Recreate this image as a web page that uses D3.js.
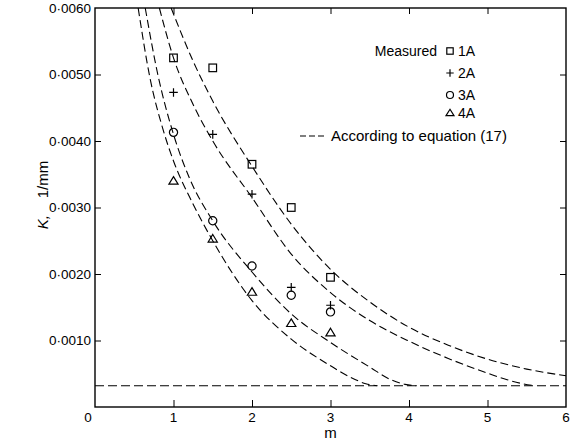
<!DOCTYPE html>
<html>
<head>
<meta charset="utf-8">
<script src="https://cdn.jsdelivr.net/npm/d3@7"></script>
<style>
  body { margin: 0; background: #fff; }
  svg { font-family: "Liberation Sans", Arial, sans-serif; }
</style>
</head>
<body>
<script>
// measured points
var mValues = [1, 1.5, 2, 2.5, 3];
var k1A = [0.00525, 0.0051, 0.00365, 0.0030, 0.00195];
var k2A = [0.00473, 0.0041, 0.0032, 0.0018, 0.00153];
var k3A = [0.00413, 0.0028, 0.00212, 0.00168, 0.00143];
var k4A = [0.0034, 0.00253, 0.00173, 0.00126, 0.00112];

// curves (equation 17)
var curveM1A = [0.97, 1.25, 1.5, 2.0, 2.5, 3.0, 3.5, 4.0, 4.5, 5.0, 5.5, 6.0];
var curveK1A = [0.0060, 0.0052, 0.0046, 0.00362, 0.00275, 0.00207, 0.00158, 0.0012, 0.00093, 0.00072, 0.00057, 0.00047];
var curveM2A = [0.82, 1.0, 1.25, 1.5, 2.0, 2.5, 3.0, 3.5, 4.0, 4.5, 5.0, 5.25, 5.45, 5.6];
var curveK2A = [0.0060, 0.00525, 0.00455, 0.0040, 0.00315, 0.0023, 0.00172, 0.0013, 0.00099, 0.00073, 0.00051, 0.00041, 0.00035, 0.00032];
var curveM3A = [0.64, 0.8, 1.0, 1.2, 1.5, 2.0, 2.5, 3.0, 3.5, 3.75, 3.95, 4.1];
var curveK3A = [0.0060, 0.0050, 0.0041, 0.00345, 0.0028, 0.00203, 0.0014, 0.00097, 0.0006, 0.00042, 0.00034, 0.00032];
var curveM4A = [0.55, 0.7, 0.87, 1.0, 1.25, 1.5, 2.0, 2.5, 3.0, 3.25, 3.45, 3.6];
var curveK4A = [0.0060, 0.00495, 0.00416, 0.0037, 0.00305, 0.0025, 0.0016, 0.00102, 0.00062, 0.00045, 0.00035, 0.00032];
var baseK = 0.00032;

var xTicks = [0, 1, 2, 3, 4, 5, 6];
var yTicks = [0.001, 0.002, 0.003, 0.004, 0.005, 0.006];
var seriesNames = ["1A", "2A", "3A", "4A"];

var width = 576, height = 440;
var plotLeft = 95, plotRight = 566, plotTop = 8, plotBottom = 407;

var svg = d3.select("body").append("svg")
    .attr("width", width)
    .attr("height", height);

var x = d3.scaleLinear().domain([0, 6]).range([plotLeft, plotRight]);
var y = d3.scaleLinear().domain([0, 0.006]).range([plotBottom, plotTop]);

var fmt = function(d) { return d3.format(".4f")(d).replace(".", "\u00b7"); };

// frame
svg.append("rect")
    .attr("x", plotLeft).attr("y", plotTop)
    .attr("width", plotRight - plotLeft).attr("height", plotBottom - plotTop)
    .attr("fill", "none").attr("stroke", "#000").attr("stroke-width", 1.4);

// axes with inside ticks
svg.append("g")
    .attr("transform", "translate(0," + plotBottom + ")")
    .call(d3.axisTop(x).tickValues(xTicks.slice(1, 6)).tickSize(7).tickFormat(""))
    .call(function(g) { g.select(".domain").remove(); });
svg.append("g")
    .attr("transform", "translate(0," + plotTop + ")")
    .call(d3.axisBottom(x).tickValues(xTicks.slice(1, 6)).tickSize(6).tickFormat(""))
    .call(function(g) { g.select(".domain").remove(); });
svg.append("g")
    .attr("transform", "translate(" + plotLeft + ",0)")
    .call(d3.axisRight(y).tickValues(yTicks.slice(0, 5)).tickSize(6).tickFormat(""))
    .call(function(g) { g.select(".domain").remove(); });
svg.append("g")
    .attr("transform", "translate(" + plotRight + ",0)")
    .call(d3.axisLeft(y).tickValues(yTicks.slice(0, 5)).tickSize(6).tickFormat(""))
    .call(function(g) { g.select(".domain").remove(); });

// tick labels
svg.append("g").selectAll("text")
    .data(yTicks)
    .enter().append("text")
    .attr("x", plotLeft - 4)
    .attr("y", function(d) { return y(d); })
    .attr("dy", "0.35em")
    .attr("text-anchor", "end")
    .attr("font-size", 13.5)
    .text(fmt);

svg.append("g").selectAll("text")
    .data(xTicks)
    .enter().append("text")
    .attr("x", function(d) { return d === 0 ? x(d) - 7 : x(d); })
    .attr("y", plotBottom + 15)
    .attr("text-anchor", "middle")
    .attr("font-size", 13.5)
    .text(function(d) { return d; });

// axis titles
svg.append("text")
    .attr("x", x(3))
    .attr("y", 438)
    .attr("text-anchor", "middle")
    .attr("font-size", 15)
    .text("m");

var yt = svg.append("text")
    .attr("transform", "translate(48,195) rotate(-90)")
    .attr("text-anchor", "middle")
    .attr("font-size", 15);
yt.append("tspan").attr("font-style", "italic").text("K,");
yt.append("tspan").attr("xml:space", "preserve").text("    1/mm");

// dashed curves
var line = d3.line()
    .x(function(d) { return x(d[0]); })
    .y(function(d) { return y(d[1]); })
    .curve(d3.curveMonotoneX);

var curves = [
    d3.zip(curveM1A, curveK1A),
    d3.zip(curveM2A, curveK2A),
    d3.zip(curveM3A, curveK3A),
    d3.zip(curveM4A, curveK4A)
];

svg.append("g").selectAll("path")
    .data(curves)
    .enter().append("path")
    .attr("d", line)
    .attr("fill", "none")
    .attr("stroke", "#000")
    .attr("stroke-width", 1.1)
    .attr("stroke-dasharray", "8,4");

svg.append("line")
    .attr("x1", x(0)).attr("x2", x(6))
    .attr("y1", y(baseK)).attr("y2", y(baseK))
    .attr("stroke", "#000")
    .attr("stroke-width", 1.1)
    .attr("stroke-dasharray", "9,4");

// markers
function drawMarker(g, kind, s) {
    if (kind === 0) {
        g.append("rect").attr("x", -s).attr("y", -s).attr("width", 2 * s).attr("height", 2 * s);
    } else if (kind === 1) {
        g.append("path").attr("d", "M" + (-s - 0.5) + ",0H" + (s + 0.5) + "M0," + (-s - 0.5) + "V" + (s + 0.5));
    } else if (kind === 2) {
        g.append("circle").attr("r", s + 0.3);
    } else {
        g.append("path").attr("d", "M0," + (-s - 0.5) + "L" + (s + 0.8) + "," + (s - 0.5) + "L" + (-s - 0.8) + "," + (s - 0.5) + "Z");
    }
    g.attr("fill", "none").attr("stroke", "#000").attr("stroke-width", 1.2);
}

[k1A, k2A, k3A, k4A].forEach(function(ks, i) {
    svg.append("g").selectAll("g")
        .data(d3.zip(mValues, ks))
        .enter().append("g")
        .attr("transform", function(d) { return "translate(" + x(d[0]) + "," + y(d[1]) + ")"; })
        .each(function() { drawMarker(d3.select(this), i, 3.8); });
});

// legend
var legY = [51, 73, 95, 113];
svg.append("text")
    .attr("x", 437).attr("y", legY[0]).attr("dy", "0.35em")
    .attr("text-anchor", "end")
    .attr("font-size", 14)
    .text("Measured");
seriesNames.forEach(function(name, i) {
    var g = svg.append("g").attr("transform", "translate(450," + legY[i] + ")");
    drawMarker(g, i, 3.2);
    svg.append("text")
        .attr("x", 458).attr("y", legY[i]).attr("dy", "0.35em")
        .attr("font-size", 14)
        .text(name);
});
svg.append("line")
    .attr("x1", 300).attr("x2", 326)
    .attr("y1", 136).attr("y2", 136)
    .attr("stroke", "#000").attr("stroke-width", 1.1)
    .attr("stroke-dasharray", "6,3");
svg.append("text")
    .attr("x", 331).attr("y", 136).attr("dy", "0.35em")
    .attr("font-size", 15)
    .text("According to equation (17)");
</script>
</body>
</html>
